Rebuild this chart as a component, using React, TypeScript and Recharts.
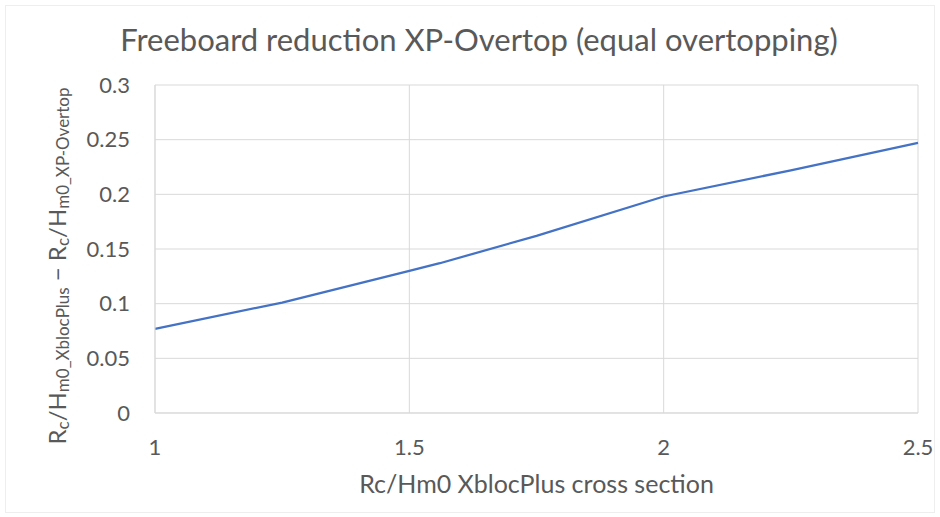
import { LineChart, Line, XAxis, YAxis, CartesianGrid, Label } from 'recharts'

const xValues = [1, 1.25, 1.5, 1.56, 1.75, 2, 2.25, 2.5]
const reduction = [0.077, 0.101, 0.13, 0.137, 0.162, 0.198, 0.222, 0.247]
const xTicks = [1, 1.5, 2, 2.5]
const yTicks = [0, 0.05, 0.1, 0.15, 0.2, 0.25, 0.3]

const data = xValues.map((x, i) => ({ x, value: reduction[i] }))

const FONT = 'Lato, "Open Sans", sans-serif'
const TEXT = '#595959'
const GRID = '#D9D9D9'

function YLabel({ viewBox }: any) {
  const cy = viewBox.y + viewBox.height / 2 + 17
  const cx = 56
  return (
    <text
      x={cx}
      y={cy}
      transform={`rotate(-90, ${cx}, ${cy})`}
      textAnchor="middle"
      dominantBaseline="central"
      fill={TEXT}
      fontSize={24}
      fontFamily={FONT}
    >
      <tspan>R</tspan>
      <tspan fontSize={17} dy={6}>c</tspan>
      <tspan dy={-6}>/H</tspan>
      <tspan fontSize={17} dy={6}>m0_XblocPlus</tspan>
      <tspan dy={-6}> − R</tspan>
      <tspan fontSize={17} dy={6}>c</tspan>
      <tspan dy={-6}>/H</tspan>
      <tspan fontSize={17} dy={6}>m0_XP-Overtop</tspan>
    </text>
  )
}

export default function App() {
  return (
    <div
      style={{
        position: 'absolute',
        left: 0,
        top: 0,
        width: 940,
        height: 517,
        background: '#fff',
        fontFamily: FONT,
      }}
    >
      <div
        style={{
          position: 'absolute',
          left: 5,
          top: 5,
          width: 930,
          height: 508,
          border: '1px solid #EEEEEE',
          boxSizing: 'border-box',
        }}
      />
      <div
        style={{
          position: 'absolute',
          left: 0,
          top: 20,
          width: 958,
          textAlign: 'center',
          fontSize: 31,
          color: TEXT,
          lineHeight: '38px',
        }}
      >
        Freeboard reduction XP-Overtop (equal overtopping)
      </div>
      <LineChart
        width={940}
        height={517}
        data={data}
        margin={{ top: 85, right: 22, bottom: 0, left: 0 }}
        style={{ position: 'absolute', left: 0, top: 0 }}
      >
        <CartesianGrid stroke={GRID} strokeWidth={1} />
        <XAxis
          dataKey="x"
          type="number"
          domain={[1, 2.5]}
          ticks={xTicks}
          tickLine={false}
          tickSize={0}
          tickMargin={26}
          axisLine={{ stroke: GRID }}
          tick={{ fill: TEXT, fontSize: 22, fontFamily: FONT }}
          height={104}
        >
          <Label
            value="Rc/Hm0 XblocPlus cross section"
            position="insideTop"
            offset={62}
            fill={TEXT}
            fontSize={25}
            fontFamily={FONT}
          />
        </XAxis>
        <YAxis
          type="number"
          domain={[0, 0.3]}
          ticks={yTicks}
          tickLine={false}
          tickSize={0}
          tickMargin={25}
          axisLine={{ stroke: GRID }}
          tick={{ fill: TEXT, fontSize: 22, fontFamily: FONT }}
          width={155}
        >
          <Label content={<YLabel />} />
        </YAxis>
        <Line
          type="linear"
          dataKey="value"
          stroke="#4472C4"
          strokeWidth={2.25}
          dot={false}
          isAnimationActive={false}
        />
      </LineChart>
    </div>
  )
}
